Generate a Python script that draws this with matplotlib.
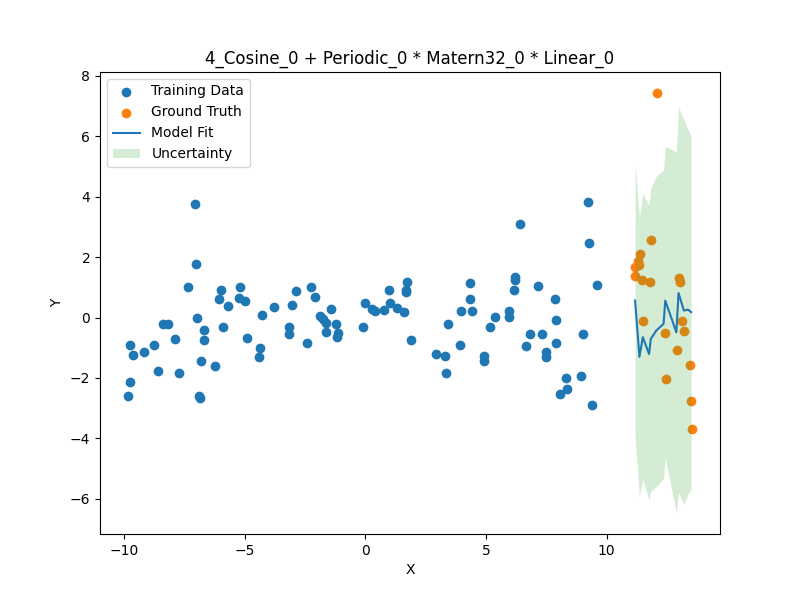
import numpy as np
import matplotlib.pyplot as plt

# training data
x_train = np.array([
    -9.82, -9.76, -9.74, -9.62, -9.17, -8.75, -8.58, -8.37, -8.15, -7.90,
    -7.72, -7.34, -7.05, -7.01, -6.96, -6.89, -6.85, -6.80, -6.67, -6.67,
    -6.22, -6.05, -5.97, -5.89, -5.68, -5.23, -5.18, -4.98, -4.89, -4.40,
    -4.36, -4.27, -3.78, -3.17, -3.17, -3.03, -2.87, -2.41, -2.24, -2.08,
    -1.88, -1.75, -1.62, -1.61, -1.42, -1.21, -1.13, -1.17, -0.09, -0.02,
    0.30, 0.41, 0.78, 0.99, 1.01, 1.32, 1.61, 1.68, 1.69, 1.73,
    1.88, 2.93, 3.32, 3.35, 3.43, 3.93, 3.97, 4.34, 4.34, 4.42,
    4.91, 4.91, 5.17, 5.38, 5.95, 5.95, 6.15, 6.20, 6.20, 6.41,
    6.67, 6.82, 7.16, 7.32, 7.49, 7.50, 7.86, 7.90, 7.90, 8.05,
    8.31, 8.36, 8.94, 9.02, 9.23, 9.27, 9.39, 9.59,
])
y_train = np.array([
    -2.59, -0.90, -2.13, -1.24, -1.14, -0.90, -1.76, -0.21, -0.21, -0.71,
    -1.84, 1.02, 3.75, 1.78, -0.03, -2.59, -2.67, -1.44, -0.40, -0.73,
    -1.60, 0.60, 0.92, -0.30, 0.39, 0.63, 1.00, 0.55, -0.67, -1.31,
    -1.02, 0.08, 0.36, -0.30, -0.53, 0.42, 0.89, -0.83, 1.02, 0.69,
    0.05, -0.05, -0.19, -0.49, 0.29, -0.23, -0.51, -0.65, -0.30, 0.47,
    0.29, 0.21, 0.26, 0.90, 0.47, 0.30, 0.19, 0.84, 0.90, 1.16,
    -0.74, -1.20, -1.26, -1.83, -0.23, -0.90, 0.20, 1.15, 0.60, 0.20,
    -1.26, -1.44, -0.30, 0.03, 0.21, 0.03, 0.90, 1.34, 1.23, 3.09,
    -0.93, -0.54, 1.05, -0.56, -1.13, -1.30, 0.60, -0.07, -0.84, -2.54,
    -1.99, -2.37, -1.93, -0.56, 3.81, 2.45, -2.90, 1.09,
])

# held-out ground truth
x_true = np.array([
    11.19, 11.19, 11.30, 11.33, 11.37, 11.46, 11.50, 11.79, 11.85, 12.08,
    12.41, 12.46, 12.91, 12.98, 13.05, 13.13, 13.20, 13.45, 13.49, 13.53,
])
y_true = np.array([
    1.67, 1.36, 1.86, 1.74, 2.09, 1.25, -0.10, 1.19, 2.58, 7.43,
    -0.51, -2.04, -1.07, 1.31, 1.17, -0.10, -0.44, -1.57, -2.76, -3.70,
])

# model prediction
x_pred = np.array([11.18, 11.36, 11.50, 11.76, 11.83, 12.06, 12.36, 12.43,
                   12.89, 12.98, 13.20, 13.37, 13.50])
y_mean = np.array([0.56, -1.30, -0.65, -1.21, -0.71, -0.43, -0.21, 0.56,
                   -0.49, 0.81, 0.23, 0.26, 0.18])
y_upper = np.array([5.05, 3.33, 4.11, 3.72, 4.28, 4.68, 4.88, 5.66,
                    5.48, 6.97, 6.54, 6.24, 5.99])
y_lower = np.array([-3.98, -5.91, -5.36, -6.06, -5.75, -5.60, -5.31, -4.64,
                    -6.47, -5.80, -6.19, -5.85, -5.69])

fig = plt.figure(figsize=(8, 6), dpi=100)
plt.scatter(x_train, y_train, color='C0', label='Training Data')
plt.scatter(x_true, y_true, color='C1', label='Ground Truth')
plt.plot(x_pred, y_mean, color='C0', label='Model Fit')
plt.fill_between(x_pred, y_lower, y_upper, color='C2', alpha=0.2,
                 linewidth=0, label='Uncertainty')
plt.title('4_Cosine_0 + Periodic_0 * Matern32_0 * Linear_0')
plt.xlabel('X')
plt.ylabel('Y')
plt.legend(loc='upper left')
plt.savefig('out.png')
